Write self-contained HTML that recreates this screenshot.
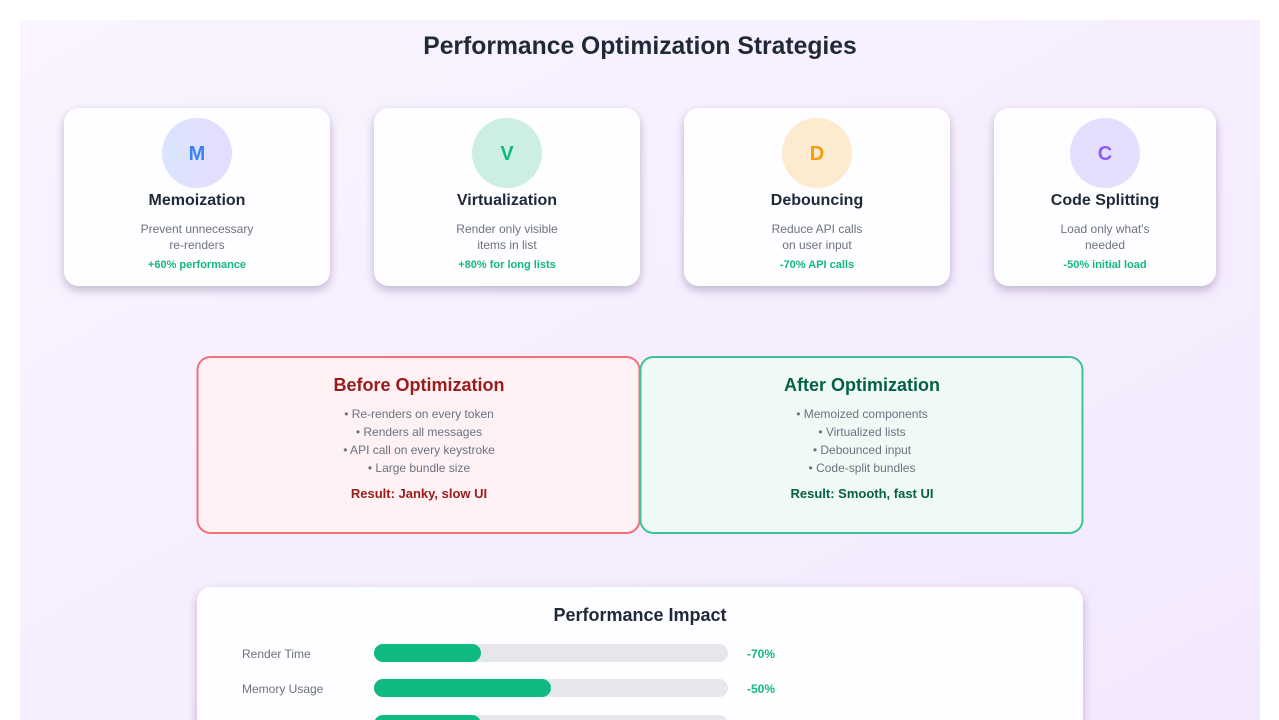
<!DOCTYPE html>
<html><head><meta charset="utf-8"><style>
html,body{margin:0;padding:0;background:#fff;overflow:hidden;}
body{width:1279px;height:720px;overflow:hidden;position:relative;font-family:"Liberation Sans",Arial,sans-serif;}
svg{position:absolute;left:0;top:0;display:block;}
</style></head><body>
<svg width="1279" height="720" viewBox="0 0 1279 720" xmlns="http://www.w3.org/2000/svg" font-family="Liberation Sans, Arial, sans-serif">
<defs>
<linearGradient id="bg" x1="0" y1="0" x2="1" y2="1">
<stop offset="0" stop-color="#f9f4ff"/><stop offset="1" stop-color="#f3e8fe"/>
</linearGradient>
<linearGradient id="mg" x1="0" y1="0" x2="1" y2="0">
<stop offset="0" stop-color="#d9e5ff"/><stop offset="1" stop-color="#e6dcfd"/>
</linearGradient>
<filter id="sh" x="-20%" y="-20%" width="140%" height="150%">
<feDropShadow dx="0" dy="4" stdDeviation="4.5" flood-color="#2e2048" flood-opacity="0.28"/>
</filter>
</defs>
<rect x="20" y="20" width="1240" height="700" fill="url(#bg)"/>
<text x="640" y="54" text-anchor="middle" font-size="24.7" font-weight="bold" fill="#1f2937">Performance Optimization Strategies</text>

<!-- cards -->
<g filter="url(#sh)">
<rect x="64" y="108" width="266" height="178" rx="15" fill="#fefdff"/>
<rect x="374" y="108" width="266" height="178" rx="15" fill="#fefdff"/>
<rect x="684" y="108" width="266" height="178" rx="15" fill="#fefdff"/>
<rect x="994" y="108" width="222" height="178" rx="15" fill="#fefdff"/>
</g>
<circle cx="197" cy="153" r="35" fill="url(#mg)"/>
<circle cx="507" cy="153" r="35" fill="#cdeee3"/>
<circle cx="817" cy="153" r="35" fill="#fdebd0"/>
<circle cx="1105" cy="153" r="35" fill="#e6defe"/>
<g font-size="20" font-weight="bold" text-anchor="middle">
<text x="197" y="160" fill="#3b82f6">M</text>
<text x="507" y="160" fill="#10b981">V</text>
<text x="817" y="160" fill="#f59e0b">D</text>
<text x="1105" y="160" fill="#8b5cf6">C</text>
</g>
<g font-size="16" font-weight="bold" text-anchor="middle" fill="#1f2937">
<text x="197" y="205">Memoization</text>
<text x="507" y="205">Virtualization</text>
<text x="817" y="205">Debouncing</text>
<text x="1105" y="205">Code Splitting</text>
</g>
<g font-size="12" text-anchor="middle" fill="#6b7280">
<text x="197" y="233">Prevent unnecessary</text>
<text x="197" y="249">re-renders</text>
<text x="507" y="233">Render only visible</text>
<text x="507" y="249">items in list</text>
<text x="817" y="233">Reduce API calls</text>
<text x="817" y="249">on user input</text>
<text x="1105" y="233">Load only what's</text>
<text x="1105" y="249">needed</text>
</g>
<g font-size="11" font-weight="bold" text-anchor="middle" fill="#10b981">
<text x="197" y="268">+60% performance</text>
<text x="507" y="268">+80% for long lists</text>
<text x="817" y="268">-70% API calls</text>
<text x="1105" y="268">-50% initial load</text>
</g>

<!-- before / after -->
<rect x="197.5" y="357" width="442" height="176" rx="13" fill="#fdf1f4" stroke="#f07178" stroke-width="2"/>
<rect x="640.5" y="357" width="442" height="176" rx="13" fill="#effaf6" stroke="#3fc196" stroke-width="2"/>
<text x="419" y="391" text-anchor="middle" font-size="18" font-weight="bold" fill="#991b1b">Before Optimization</text>
<text x="862" y="391" text-anchor="middle" font-size="18" font-weight="bold" fill="#065f46">After Optimization</text>
<g font-size="12" text-anchor="middle" fill="#6b7280">
<text x="419" y="418">• Re-renders on every token</text>
<text x="419" y="436">• Renders all messages</text>
<text x="419" y="454">• API call on every keystroke</text>
<text x="419" y="472">• Large bundle size</text>
<text x="862" y="418">• Memoized components</text>
<text x="862" y="436">• Virtualized lists</text>
<text x="862" y="454">• Debounced input</text>
<text x="862" y="472">• Code-split bundles</text>
</g>
<text x="419" y="498" text-anchor="middle" font-size="13" font-weight="bold" fill="#991b1b">Result: Janky, slow UI</text>
<text x="862" y="498" text-anchor="middle" font-size="13" font-weight="bold" fill="#065f46">Result: Smooth, fast UI</text>

<!-- performance impact -->
<rect x="197" y="587" width="886" height="160" rx="14" fill="#fefdff" filter="url(#sh)"/>
<text x="640" y="621" text-anchor="middle" font-size="18" font-weight="bold" fill="#1f2937">Performance Impact</text>
<g font-size="12" fill="#6b7280">
<text x="242" y="658">Render Time</text>
<text x="242" y="693">Memory Usage</text>
</g>
<rect x="374" y="644" width="354" height="18" rx="9" fill="#e5e7eb"/>
<rect x="374" y="644" width="107" height="18" rx="9" fill="#10b981"/>
<rect x="374" y="679" width="354" height="18" rx="9" fill="#e5e7eb"/>
<rect x="374" y="679" width="177" height="18" rx="9" fill="#10b981"/>
<rect x="374" y="715" width="354" height="18" rx="9" fill="#e5e7eb"/>
<rect x="374" y="715" width="107" height="18" rx="9" fill="#10b981"/>
<g font-size="12" font-weight="bold" fill="#10b981">
<text x="747" y="658">-70%</text>
<text x="747" y="693">-50%</text>
</g>
</svg>
</body></html>
